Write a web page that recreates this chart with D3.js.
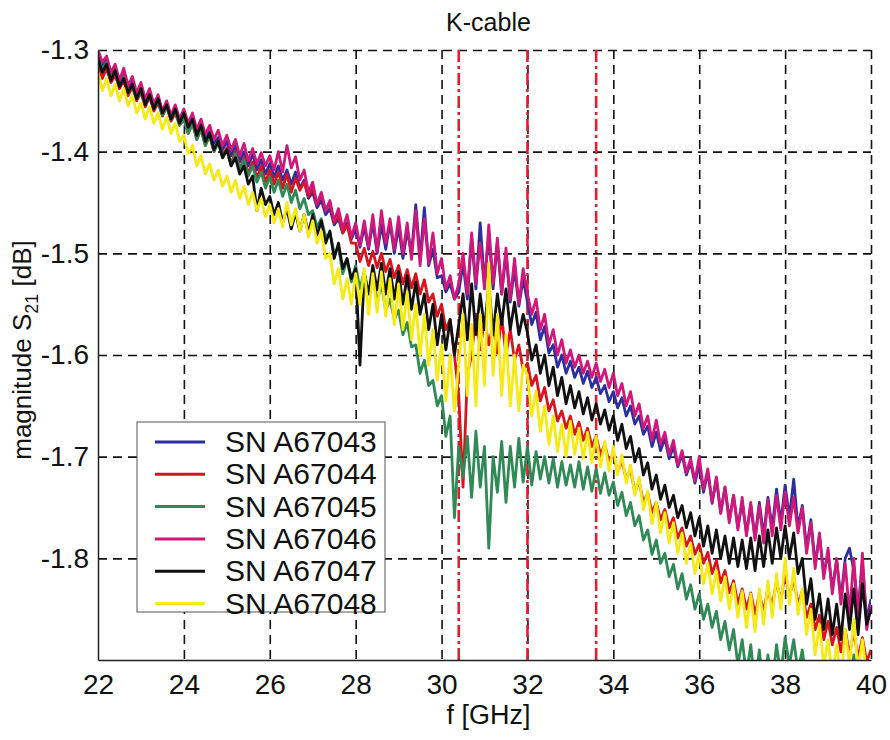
<!DOCTYPE html>
<html>
<head>
<meta charset="utf-8">
<script src="https://cdn.jsdelivr.net/npm/d3@7"></script>
<style>
  body { margin: 0; background: #fff; }
  text { font-family: "Liberation Sans", Arial, sans-serif; fill: #111; }
</style>
</head>
<body>
<div class="chart"></div>
<script>
// frequency grid, 0.1 GHz steps
const freqs = d3.range(181).map(i => 22 + i / 10)

const xTicks = [22, 24, 26, 28, 30, 32, 34, 36, 38, 40]
const yTicks = [-1.3, -1.4, -1.5, -1.6, -1.7, -1.8]
const markers = [30.4, 32, 33.6]

const names = ['SN A67043', 'SN A67044', 'SN A67045', 'SN A67046', 'SN A67047', 'SN A67048']
const colors = ['#2b2f9f', '#d8141f', '#2f8a55', '#d0187a', '#111111', '#f5ea14']

const a67043 = [
  -1.303, -1.315, -1.310, -1.324, -1.318, -1.332, -1.324, -1.340, -1.330, -1.346,
  -1.338, -1.352, -1.342, -1.357, -1.350, -1.364, -1.354, -1.368, -1.360, -1.372,
  -1.364, -1.376, -1.368, -1.382, -1.372, -1.388, -1.380, -1.392, -1.386, -1.398,
  -1.390, -1.404, -1.394, -1.410, -1.400, -1.414, -1.402, -1.418, -1.408, -1.422,
  -1.412, -1.425, -1.414, -1.428, -1.418, -1.432, -1.420, -1.436, -1.428, -1.446,
  -1.440, -1.455, -1.448, -1.462, -1.456, -1.472, -1.466, -1.480, -1.470, -1.486,
  -1.476, -1.494, -1.474, -1.496, -1.470, -1.500, -1.472, -1.496, -1.470, -1.500,
  -1.474, -1.505, -1.478, -1.500, -1.452, -1.505, -1.455, -1.512, -1.496, -1.524,
  -1.522, -1.538, -1.530, -1.545, -1.538, -1.510, -1.545, -1.485, -1.535, -1.470,
  -1.530, -1.480, -1.535, -1.490, -1.540, -1.500, -1.548, -1.515, -1.552, -1.525,
  -1.548, -1.570, -1.558, -1.585, -1.572, -1.598, -1.590, -1.612, -1.600, -1.618,
  -1.606, -1.622, -1.612, -1.628, -1.616, -1.632, -1.622, -1.638, -1.630, -1.646,
  -1.636, -1.652, -1.642, -1.660, -1.650, -1.668, -1.660, -1.678, -1.670, -1.690,
  -1.676, -1.694, -1.682, -1.702, -1.690, -1.710, -1.698, -1.718, -1.706, -1.726,
  -1.708, -1.735, -1.715, -1.746, -1.722, -1.755, -1.730, -1.762, -1.738, -1.770,
  -1.745, -1.775, -1.748, -1.780, -1.745, -1.778, -1.740, -1.770, -1.732, -1.765,
  -1.728, -1.760, -1.722, -1.770, -1.748, -1.790, -1.762, -1.805, -1.778, -1.815,
  -1.795, -1.830, -1.802, -1.840, -1.800, -1.790, -1.812, -1.850, -1.805, -1.860,
  -1.840
]

const a67044 = [
  -1.312, -1.328, -1.318, -1.332, -1.325, -1.338, -1.330, -1.345, -1.336, -1.350,
  -1.342, -1.356, -1.346, -1.360, -1.352, -1.365, -1.356, -1.370, -1.362, -1.374,
  -1.368, -1.382, -1.372, -1.388, -1.378, -1.394, -1.384, -1.400, -1.390, -1.405,
  -1.396, -1.412, -1.400, -1.418, -1.406, -1.422, -1.410, -1.426, -1.414, -1.430,
  -1.418, -1.432, -1.420, -1.436, -1.422, -1.440, -1.426, -1.438, -1.430, -1.444,
  -1.436, -1.452, -1.442, -1.458, -1.450, -1.470, -1.462, -1.480, -1.472, -1.490,
  -1.490, -1.508, -1.495, -1.512, -1.498, -1.514, -1.500, -1.518, -1.506, -1.524,
  -1.512, -1.530, -1.516, -1.534, -1.520, -1.540, -1.526, -1.548, -1.540, -1.562,
  -1.550, -1.575, -1.565, -1.600, -1.640, -1.730, -1.620, -1.600, -1.560, -1.595,
  -1.565, -1.590, -1.570, -1.598, -1.562, -1.600, -1.575, -1.605, -1.590, -1.615,
  -1.608, -1.630, -1.620, -1.645, -1.632, -1.655, -1.644, -1.665, -1.655, -1.672,
  -1.660, -1.678, -1.666, -1.684, -1.672, -1.690, -1.680, -1.698, -1.688, -1.705,
  -1.698, -1.715, -1.704, -1.722, -1.712, -1.735, -1.724, -1.745, -1.736, -1.755,
  -1.745, -1.762, -1.752, -1.770, -1.760, -1.780, -1.770, -1.788, -1.778, -1.796,
  -1.786, -1.805, -1.794, -1.815, -1.802, -1.824, -1.812, -1.834, -1.822, -1.845,
  -1.830, -1.850, -1.834, -1.855, -1.835, -1.852, -1.830, -1.848, -1.822, -1.842,
  -1.815, -1.838, -1.820, -1.845, -1.832, -1.858, -1.845, -1.870, -1.856, -1.880,
  -1.862, -1.885, -1.868, -1.892, -1.870, -1.895, -1.872, -1.898, -1.878, -1.902,
  -1.890
]

const a67045 = [
  -1.305, -1.320, -1.312, -1.328, -1.320, -1.336, -1.326, -1.342, -1.334, -1.348,
  -1.340, -1.354, -1.344, -1.358, -1.350, -1.364, -1.356, -1.368, -1.360, -1.374,
  -1.368, -1.382, -1.372, -1.388, -1.378, -1.394, -1.384, -1.400, -1.390, -1.406,
  -1.398, -1.414, -1.402, -1.418, -1.408, -1.424, -1.414, -1.430, -1.420, -1.436,
  -1.425, -1.440, -1.428, -1.444, -1.432, -1.450, -1.438, -1.456, -1.446, -1.462,
  -1.458, -1.474, -1.466, -1.484, -1.480, -1.500, -1.494, -1.520, -1.506, -1.528,
  -1.512, -1.535, -1.518, -1.540, -1.524, -1.548, -1.530, -1.556, -1.545, -1.565,
  -1.556, -1.580, -1.568, -1.592, -1.590, -1.618, -1.605, -1.630, -1.625, -1.650,
  -1.640, -1.680, -1.660, -1.760, -1.690, -1.720, -1.680, -1.740, -1.675, -1.730,
  -1.690, -1.790, -1.700, -1.735, -1.685, -1.745, -1.690, -1.730, -1.682, -1.725,
  -1.690, -1.728, -1.695, -1.722, -1.700, -1.726, -1.702, -1.730, -1.705, -1.728,
  -1.708, -1.730, -1.705, -1.732, -1.710, -1.734, -1.712, -1.736, -1.716, -1.738,
  -1.725, -1.748, -1.735, -1.758, -1.745, -1.768, -1.758, -1.782, -1.772, -1.796,
  -1.782, -1.805, -1.795, -1.818, -1.806, -1.830, -1.815, -1.840, -1.826, -1.850,
  -1.835, -1.860, -1.845, -1.868, -1.852, -1.880, -1.862, -1.890, -1.870, -1.905,
  -1.880, -1.915, -1.885, -1.925, -1.890, -1.930, -1.895, -1.925, -1.885, -1.915,
  -1.878, -1.905, -1.880, -1.912, -1.890, -1.925, -1.905, -1.935, -1.912, -1.940,
  -1.915, -1.945, -1.920, -1.950, -1.905, -1.935, -1.895, -1.930, -1.910, -1.940,
  -1.925
]

const a67046 = [
  -1.300, -1.312, -1.306, -1.322, -1.314, -1.330, -1.318, -1.335, -1.326, -1.342,
  -1.332, -1.348, -1.338, -1.353, -1.344, -1.360, -1.350, -1.364, -1.354, -1.368,
  -1.358, -1.372, -1.362, -1.378, -1.368, -1.383, -1.374, -1.388, -1.379, -1.394,
  -1.384, -1.398, -1.388, -1.404, -1.392, -1.409, -1.397, -1.412, -1.401, -1.414,
  -1.404, -1.418, -1.400, -1.420, -1.394, -1.416, -1.405, -1.428, -1.418, -1.440,
  -1.430, -1.452, -1.440, -1.458, -1.448, -1.468, -1.456, -1.476, -1.462, -1.484,
  -1.470, -1.492, -1.468, -1.494, -1.462, -1.498, -1.458, -1.490, -1.466, -1.496,
  -1.464, -1.500, -1.470, -1.506, -1.458, -1.512, -1.466, -1.510, -1.480, -1.520,
  -1.505, -1.535, -1.522, -1.545, -1.530, -1.500, -1.540, -1.480, -1.530, -1.490,
  -1.535, -1.472, -1.530, -1.485, -1.540, -1.495, -1.545, -1.505, -1.550, -1.515,
  -1.540, -1.560, -1.545, -1.575, -1.560, -1.590, -1.575, -1.600, -1.585, -1.608,
  -1.595, -1.612, -1.600, -1.618, -1.606, -1.622, -1.608, -1.626, -1.614, -1.632,
  -1.618, -1.640, -1.628, -1.650, -1.636, -1.660, -1.648, -1.672, -1.660, -1.684,
  -1.664, -1.688, -1.676, -1.698, -1.684, -1.708, -1.694, -1.716, -1.702, -1.724,
  -1.700, -1.732, -1.712, -1.745, -1.720, -1.756, -1.730, -1.765, -1.738, -1.772,
  -1.740, -1.778, -1.745, -1.782, -1.748, -1.785, -1.742, -1.778, -1.738, -1.772,
  -1.735, -1.768, -1.740, -1.775, -1.750, -1.795, -1.765, -1.810, -1.775, -1.820,
  -1.790, -1.835, -1.800, -1.845, -1.805, -1.855, -1.800, -1.860, -1.795, -1.870,
  -1.845
]

const a67047 = [
  -1.308, -1.322, -1.314, -1.330, -1.320, -1.336, -1.328, -1.342, -1.334, -1.348,
  -1.338, -1.354, -1.344, -1.358, -1.348, -1.362, -1.354, -1.368, -1.358, -1.372,
  -1.362, -1.376, -1.368, -1.384, -1.374, -1.390, -1.382, -1.398, -1.390, -1.406,
  -1.398, -1.414, -1.406, -1.422, -1.414, -1.432, -1.424, -1.458, -1.436, -1.452,
  -1.444, -1.462, -1.450, -1.470, -1.456, -1.476, -1.460, -1.478, -1.462, -1.480,
  -1.462, -1.482, -1.468, -1.490, -1.478, -1.505, -1.490, -1.515, -1.505, -1.525,
  -1.515, -1.610, -1.520, -1.540, -1.512, -1.536, -1.510, -1.540, -1.515, -1.545,
  -1.518, -1.550, -1.522, -1.555, -1.528, -1.560, -1.540, -1.575, -1.550, -1.590,
  -1.560, -1.595, -1.565, -1.600, -1.570, -1.540, -1.585, -1.530, -1.580, -1.540,
  -1.575, -1.530, -1.580, -1.540, -1.570, -1.535, -1.575, -1.548, -1.580, -1.560,
  -1.578, -1.605, -1.590, -1.618, -1.600, -1.630, -1.612, -1.640, -1.622, -1.648,
  -1.630, -1.652, -1.636, -1.658, -1.642, -1.664, -1.648, -1.668, -1.654, -1.674,
  -1.660, -1.684, -1.668, -1.692, -1.680, -1.705, -1.692, -1.718, -1.706, -1.732,
  -1.718, -1.742, -1.728, -1.750, -1.738, -1.760, -1.748, -1.770, -1.755, -1.778,
  -1.760, -1.788, -1.768, -1.795, -1.772, -1.800, -1.778, -1.805, -1.780, -1.808,
  -1.782, -1.810, -1.780, -1.812, -1.778, -1.808, -1.772, -1.805, -1.770, -1.800,
  -1.768, -1.800, -1.775, -1.815, -1.800, -1.845, -1.820, -1.860, -1.835, -1.870,
  -1.840, -1.875, -1.845, -1.880, -1.835, -1.870, -1.830, -1.875, -1.825, -1.865,
  -1.850
]

const a67048 = [
  -1.322, -1.340, -1.328, -1.345, -1.334, -1.350, -1.338, -1.355, -1.345, -1.362,
  -1.352, -1.368, -1.356, -1.372, -1.362, -1.378, -1.366, -1.382, -1.372, -1.390,
  -1.384, -1.402, -1.394, -1.414, -1.404, -1.422, -1.412, -1.428, -1.418, -1.434,
  -1.424, -1.440, -1.428, -1.446, -1.434, -1.452, -1.440, -1.458, -1.446, -1.464,
  -1.452, -1.470, -1.456, -1.474, -1.450, -1.472, -1.456, -1.478, -1.462, -1.484,
  -1.468, -1.490, -1.478, -1.505, -1.500, -1.530, -1.515, -1.545, -1.525, -1.550,
  -1.520, -1.550, -1.515, -1.560, -1.520, -1.558, -1.518, -1.562, -1.525, -1.570,
  -1.530, -1.575, -1.538, -1.585, -1.550, -1.600, -1.560, -1.610, -1.575, -1.625,
  -1.590, -1.645, -1.600, -1.655, -1.610, -1.560, -1.640, -1.570, -1.650, -1.560,
  -1.630, -1.510, -1.620, -1.560, -1.640, -1.580, -1.650, -1.600, -1.655, -1.610,
  -1.620, -1.660, -1.635, -1.675, -1.650, -1.688, -1.660, -1.695, -1.668, -1.700,
  -1.665, -1.698, -1.672, -1.702, -1.676, -1.706, -1.680, -1.710, -1.685, -1.714,
  -1.690, -1.718, -1.698, -1.726, -1.708, -1.738, -1.720, -1.752, -1.734, -1.766,
  -1.745, -1.775, -1.755, -1.785, -1.765, -1.795, -1.775, -1.805, -1.785, -1.815,
  -1.795, -1.825, -1.805, -1.835, -1.812, -1.842, -1.818, -1.850, -1.825, -1.858,
  -1.832, -1.868, -1.835, -1.872, -1.830, -1.865, -1.822, -1.858, -1.815, -1.850,
  -1.800, -1.845, -1.810, -1.855, -1.830, -1.875, -1.850, -1.895, -1.865, -1.905,
  -1.880, -1.915, -1.885, -1.920, -1.870, -1.905, -1.860, -1.910, -1.880, -1.915,
  -1.900
]

const series = [a67043, a67044, a67045, a67046, a67047, a67048]

const W = 890
const H = 740
const m = { left: 98, right: 19, top: 50, bottom: 80 }
const w = W - m.left - m.right
const h = H - m.top - m.bottom

const svg = d3.select('.chart')
  .append('svg')
    .attr('width', W)
    .attr('height', H)

svg.append('rect').attr('width', W).attr('height', H).attr('fill', '#fff')

const x = d3.scaleLinear().domain([22, 40]).range([0, w])
const y = d3.scaleLinear().domain([-1.9, -1.3]).range([h, 0])

const g = svg.append('g').attr('transform', `translate(${m.left},${m.top})`)

g.append('clipPath').attr('id', 'plot')
  .append('rect').attr('width', w).attr('height', h)

//grid
g.append('g')
  .call(d3.axisBottom(x).tickValues(xTicks.slice(1)).tickSize(h).tickFormat(''))
  .call(s => s.select('.domain').remove())
  .selectAll('line')
    .attr('stroke', '#111')
    .attr('stroke-width', 1.6)
    .attr('stroke-dasharray', '9,6')

g.append('g')
  .call(d3.axisLeft(y).tickValues(yTicks).tickSize(-w).tickFormat(''))
  .call(s => s.select('.domain').remove())
  .selectAll('line')
    .attr('stroke', '#111')
    .attr('stroke-width', 1.6)
    .attr('stroke-dasharray', '9,6')

//red markers
g.selectAll('.marker')
  .data(markers)
  .enter().append('line')
    .attr('class', 'marker')
    .attr('x1', d => x(d)).attr('x2', d => x(d))
    .attr('y1', 0).attr('y2', h)
    .attr('stroke', '#e02030')
    .attr('stroke-width', 2.6)
    .attr('stroke-dasharray', '12,4,3,4')

//curves
const line = d3.line()
  .x((d, i) => x(freqs[i]))
  .y(d => y(d))

g.append('g')
  .attr('clip-path', 'url(#plot)')
  .selectAll('path')
  .data(series)
  .enter().append('path')
    .attr('d', line)
    .attr('fill', 'none')
    .attr('stroke', (d, i) => colors[i])
    .attr('stroke-width', 2.8)
    .attr('stroke-linejoin', 'round')

//axes
const xAxis = g.append('g')
  .attr('transform', `translate(0,${h})`)
  .call(d3.axisBottom(x).tickValues(xTicks).tickSize(0).tickPadding(14))
xAxis.select('.domain').attr('stroke', '#222').attr('stroke-width', 1.5)
xAxis.selectAll('text').style('font-size', '28px').attr('fill', '#111')

const yAxis = g.append('g')
  .call(d3.axisLeft(y).tickValues(yTicks).tickSize(0).tickPadding(9).tickFormat(d => d.toFixed(1)))
yAxis.select('.domain').attr('stroke', '#222').attr('stroke-width', 1.5)
yAxis.selectAll('text').style('font-size', '28px').attr('fill', '#111')

//title and labels
svg.append('text')
  .attr('x', m.left + w / 2 + 4)
  .attr('y', 31)
  .attr('text-anchor', 'middle')
  .style('font-size', '25px')
  .text('K-cable')

svg.append('text')
  .attr('x', m.left + w / 2 + 4)
  .attr('y', 724)
  .attr('text-anchor', 'middle')
  .style('font-size', '27px')
  .text('f [GHz]')

const yl = svg.append('text')
  .attr('transform', 'translate(31,350) rotate(-90)')
  .attr('text-anchor', 'middle')
  .style('font-size', '26px')
yl.append('tspan').text('magnitude S')
yl.append('tspan').attr('dy', 7).style('font-size', '18px').text('21')
yl.append('tspan').attr('dy', -7).text(' [dB]')

//legend
const lg = svg.append('g').attr('transform', 'translate(137,422)')
lg.append('rect')
  .attr('width', 248)
  .attr('height', 190)
  .attr('fill', '#fff')
  .attr('stroke', '#555')
  .attr('stroke-width', 1)

const rows = lg.selectAll('.row')
  .data(names)
  .enter().append('g')
    .attr('class', 'row')
    .attr('transform', (d, i) => `translate(0,${20 + i * 32.3})`)

rows.append('line')
  .attr('x1', 18).attr('x2', 68)
  .attr('stroke', (d, i) => colors[i])
  .attr('stroke-width', 3)

rows.append('text')
  .attr('x', 88)
  .attr('y', 10)
  .style('font-size', '30px')
  .text(d => d)
</script>
</body>
</html>
